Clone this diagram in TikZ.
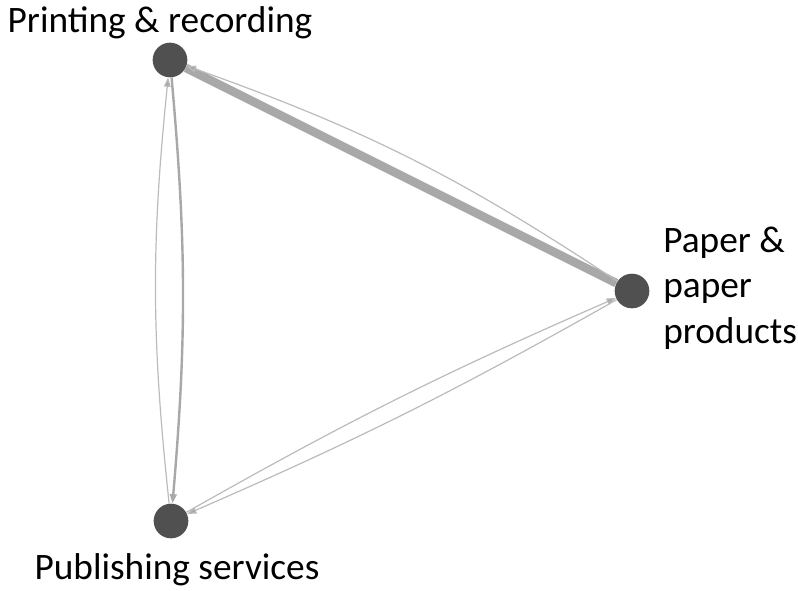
\documentclass[tikz,border=0pt]{standalone}
\usepackage{fontspec}
\setmainfont{Carlito}
\usetikzlibrary{arrows.meta}
\definecolor{nodegray}{HTML}{505050}
\definecolor{edgegray}{HTML}{A8A8A8}
\definecolor{thingray}{HTML}{BBBBBB}
\tikzset{
  vertex/.style={circle,fill=nodegray,draw=none,minimum size=26pt,inner sep=0pt},
  lab/.style={font=\fontsize{28}{34}\selectfont,inner sep=0pt},
  thinedge/.style={draw=thingray,line width=0.9pt,-{Triangle[length=7pt,width=5pt,fill=edgegray]}},
  midedge/.style={draw=edgegray,line width=1.8pt,-{Triangle[length=7pt,width=5pt,fill=edgegray]}},
  thickedge/.style={draw=edgegray,line width=6.5pt},
}
\begin{document}
\begin{tikzpicture}[x=0.75pt,y=-0.75pt]
\useasboundingbox (0,0) rectangle (798,590);
\node[vertex] (pr) at (170,60) {};
\node[vertex] (pa) at (632,291) {};
\node[vertex] (pu) at (171,521) {};
\node[lab] (lpr) at (160,23) {Printing \& recording};
\node[lab,align=left,anchor=west] (lpa) at (663,288) {Paper \&\\paper\\products};
\node[lab] (lpu) at (177,570) {Publishing services};
\draw[thickedge] (pr) -- (pa);
\draw[thinedge] (pa) to[bend right=7] (pr);
\draw[thinedge] (pu) to[bend left=6] (pr);
\draw[midedge] (pr) to[bend left=5] (pu);
\draw[thinedge] (pu) to[bend left=3] (pa);
\draw[thinedge] (pa) to[bend left=3] (pu);
\end{tikzpicture}
\end{document}
